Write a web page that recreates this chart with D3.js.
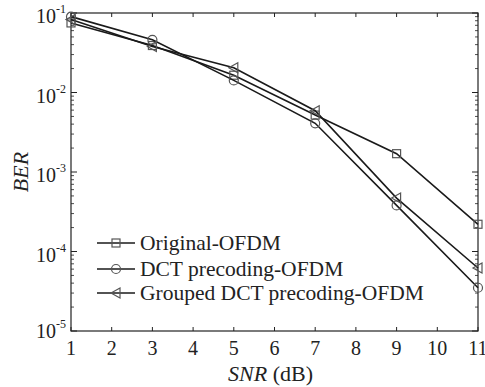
<!DOCTYPE html>
<html>
<head>
<meta charset="utf-8">
<script src="https://cdn.jsdelivr.net/npm/d3@7"></script>
<style>
  body { margin: 0; background: #fff; }
  text { font-family: "Liberation Serif", "Times New Roman", serif; fill: #222; }
</style>
</head>
<body>
<div id="chart"></div>
<script>
const snr = [1, 3, 5, 7, 9, 11];
const berOriginal = [0.075, 0.039, 0.0165, 0.0052, 0.0017, 0.00022];
const berDct = [0.09, 0.046, 0.0142, 0.0041, 0.00038, 0.000035];
const berGrouped = [0.083, 0.038, 0.0205, 0.0059, 0.00047, 0.000062];
const seriesNames = ['Original-OFDM', 'DCT precoding-OFDM', 'Grouped DCT precoding-OFDM'];
const xTicks = [1, 2, 3, 4, 5, 6, 7, 8, 9, 10, 11];
const yExponents = [-1, -2, -3, -4, -5];

const width = 485, height = 387;
const margin = {top: 13, right: 7, bottom: 56, left: 71};
const innerW = width - margin.left - margin.right,
  innerH = height - margin.top - margin.bottom;

const svg = d3.select('#chart').append('svg')
  .attr('width', width)
  .attr('height', height);

const g = svg.append('g')
  .attr('transform', `translate(${margin.left},${margin.top})`);

const x = d3.scaleLinear().domain([1, 11]).range([0, innerW]);
const y = d3.scaleLog().domain([1e-5, 1e-1]).range([innerH, 0]);

const ink = '#222';

// frame
g.append('rect')
  .attr('width', innerW).attr('height', innerH)
  .attr('fill', 'none').attr('stroke', ink).attr('stroke-width', 1.2);

// x ticks, inward top and bottom
xTicks.forEach(t => {
  g.append('line').attr('x1', x(t)).attr('x2', x(t)).attr('y1', innerH).attr('y2', innerH - 4).attr('stroke', ink);
  g.append('line').attr('x1', x(t)).attr('x2', x(t)).attr('y1', 0).attr('y2', 4).attr('stroke', ink);
  g.append('text')
    .attr('x', x(t)).attr('y', innerH + 24)
    .attr('text-anchor', 'middle')
    .attr('font-size', 20)
    .text(t);
});

// y ticks: majors and minors inward on both sides
const minors = [];
for (let e = -5; e < -1; e++) {
  for (let m = 2; m <= 9; m++) minors.push(m * Math.pow(10, e));
}
minors.forEach(v => {
  g.append('line').attr('x1', 0).attr('x2', 3).attr('y1', y(v)).attr('y2', y(v)).attr('stroke', ink).attr('stroke-width', 0.8);
  g.append('line').attr('x1', innerW).attr('x2', innerW - 3).attr('y1', y(v)).attr('y2', y(v)).attr('stroke', ink).attr('stroke-width', 0.8);
});
yExponents.forEach(e => {
  const v = Math.pow(10, e);
  g.append('line').attr('x1', 0).attr('x2', 6).attr('y1', y(v)).attr('y2', y(v)).attr('stroke', ink);
  g.append('line').attr('x1', innerW).attr('x2', innerW - 6).attr('y1', y(v)).attr('y2', y(v)).attr('stroke', ink);
  const lab = g.append('text')
    .attr('x', -35).attr('y', y(v) + (e === -5 ? 7 : 10))
    .attr('font-size', 20);
  lab.append('tspan').text('10');
  lab.append('tspan').attr('dy', -10).attr('font-size', 12).text(e);
});

// axis titles
svg.append('text')
  .attr('transform', `translate(28,${margin.top + innerH / 2}) rotate(-90)`)
  .attr('text-anchor', 'middle')
  .attr('font-size', 22)
  .attr('font-style', 'italic')
  .text('BER');

const xl = svg.append('text')
  .attr('x', margin.left + innerW / 2 - 4).attr('y', 381)
  .attr('text-anchor', 'middle')
  .attr('font-size', 22);
xl.append('tspan').attr('font-style', 'italic').text('SNR');
xl.append('tspan').text(' (dB)');

// markers
function drawMarker(sel, type, cx, cy) {
  if (type === 'square') {
    sel.append('rect').attr('x', cx - 4).attr('y', cy - 4).attr('width', 8).attr('height', 8)
      .attr('fill', 'none').attr('stroke', '#555').attr('stroke-width', 1.2);
  } else if (type === 'circle') {
    sel.append('circle').attr('cx', cx).attr('cy', cy).attr('r', 4.5)
      .attr('fill', 'none').attr('stroke', '#555').attr('stroke-width', 1.2);
  } else {
    sel.append('path')
      .attr('d', `M${cx - 5},${cy} L${cx + 4},${cy - 5} L${cx + 4},${cy + 5} Z`)
      .attr('fill', 'none').attr('stroke', '#555').attr('stroke-width', 1.2);
  }
}

const series = [
  {name: seriesNames[0], values: berOriginal, marker: 'square'},
  {name: seriesNames[1], values: berDct, marker: 'circle'},
  {name: seriesNames[2], values: berGrouped, marker: 'triangle'}
];

const line = d3.line()
  .x(d => x(d[0]))
  .y(d => y(d[1]));

series.forEach(s => {
  const pts = snr.map((v, i) => [v, s.values[i]]);
  g.append('path')
    .datum(pts)
    .attr('d', line)
    .attr('fill', 'none')
    .attr('stroke', '#1a1a1a')
    .attr('stroke-width', 1.6);
  pts.forEach(p => drawMarker(g, s.marker, x(p[0]), y(p[1])));
});

// legend
const legendY = [243, 269, 293];
series.forEach((s, i) => {
  const ly = legendY[i];
  svg.append('line').attr('x1', 97).attr('x2', 135).attr('y1', ly).attr('y2', ly)
    .attr('stroke', '#1a1a1a').attr('stroke-width', 1.6);
  drawMarker(svg, s.marker, 116, ly);
  svg.append('text')
    .attr('x', 140).attr('y', ly + 7)
    .attr('font-size', 21.5)
    .text(s.name);
});
</script>
</body>
</html>
